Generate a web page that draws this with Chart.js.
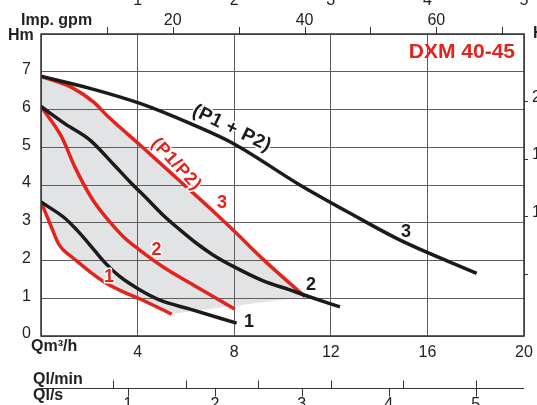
<!DOCTYPE html>
<html>
<head>
<meta charset="utf-8">
<script src="https://cdn.jsdelivr.net/npm/chart.js@4.4.0/dist/chart.umd.min.js"></script>
<style>
  html, body { margin: 0; padding: 0; background: #fff; }
  #wrap { width: 537px; height: 405px; position: relative; }
</style>
</head>
<body>
<div id="wrap"><canvas id="chart"></canvas></div>
<script>
'use strict';

// ---- Pump curves: Q (m3/h) / H (m) ----
const red1Q = [0, 0.37, 0.72, 0.92, 1.34, 2.03, 2.72, 3.41, 4.1, 5.41];
const red1H = [3.55, 2.98, 2.45, 2.28, 2.06, 1.7, 1.39, 1.17, 0.98, 0.58];

const black1Q = [0, 0.99, 1.48, 2.03, 2.58, 3.27, 4.1, 4.93, 6.17, 8.1];
const black1H = [3.55, 3.12, 2.81, 2.41, 1.99, 1.57, 1.22, 0.95, 0.71, 0.34];

const red2Q = [0, 0.85, 1.4, 2.1, 2.72, 3.41, 4.1, 5.06, 6.45, 8.03];
const red2H = [6.08, 5.28, 4.48, 3.65, 3.12, 2.63, 2.27, 1.83, 1.3, 0.71];

const black2Q = [0, 1.0, 2.03, 3.0, 3.69, 4.38, 5.06, 5.76, 6.45, 7.14, 8.0, 9.2, 10.31, 10.93, 12.38];
const black2H = [6.08, 5.62, 5.19, 4.55, 4.08, 3.64, 3.2, 2.81, 2.45, 2.14, 1.83, 1.46, 1.22, 1.08, 0.77];

const red3Q = [0, 1.34, 2.17, 2.72, 4.1, 5.76, 7.14, 8.0, 9.2, 10.93];
const red3H = [6.88, 6.56, 6.2, 5.85, 5.06, 4.1, 3.3, 2.78, 2.03, 1.04];

const black3Q = [0, 2.03, 4.1, 6.17, 7.96, 10.72, 12.8, 14.87, 18.04];
const black3H = [6.88, 6.56, 6.16, 5.63, 5.1, 4.0, 3.25, 2.54, 1.66];

// ---- Axis ticks ----
const qTicks = [4, 8, 12, 16, 20];
const hTicks = [0, 1, 2, 3, 4, 5, 6, 7];
const gpmTicks = [10, 20, 30, 40, 50, 60, 70];
const gpmLabels = [20, 40, 60];
const topCutLabels = ['1', '2', '3', '4', '5'];
const lminTicks = [50, 100, 150, 200, 250, 300];
const lsTicks = [1, 2, 3, 4, 5];
const ftTicks = [5, 10, 15, 20];

const M3H_PER_GPM = 0.2728;
const M3H_PER_LMIN = 0.06;
const M3H_PER_LS = 3.6;
const M_PER_FT = 0.3048;
const FT_SHIFT = 0.12;

const RED = '#e3241d';
const BLACK = '#1b1b1b';
const GREY_AREA = '#e2e3e5';
const GRID = '#5e5e5e';
const TEXT = '#222';
const FONT = '"Liberation Sans", Arial, Helvetica, sans-serif';

// ---- Curve captions (data coords) ----
const curveLabels = [
  { text: '(P1 + P2)', q: 7.9, h: 5.5, angle: 26, color: BLACK, size: 19 },
  { text: '(P1/P2)', q: 5.6, h: 4.55, angle: 47, color: RED, size: 18 },
  { text: '3', q: 7.5, h: 3.53, angle: 0, color: RED, size: 18 },
  { text: '2', q: 4.78, h: 2.28, angle: 0, color: RED, size: 18 },
  { text: '1', q: 2.82, h: 1.55, angle: 0, color: RED, size: 18 },
  { text: '1', q: 8.61, h: 0.37, angle: 0, color: BLACK, size: 18 },
  { text: '2', q: 11.18, h: 1.36, angle: 0, color: BLACK, size: 18 },
  { text: '3', q: 15.11, h: 2.75, angle: 0, color: BLACK, size: 18 },
];

function pts(qs, hs) {
  return qs.map((q, i) => ({ x: q, y: hs[i] }));
}

function curve(qs, hs, color) {
  return {
    data: pts(qs, hs),
    borderColor: color,
    borderWidth: 3.5,
    pointRadius: 0,
    fill: false,
    cubicInterpolationMode: 'monotone',
    borderCapStyle: 'butt',
  };
}

const datasets = [
  curve(black3Q, black3H, BLACK),
  curve(black2Q, black2H, BLACK),
  curve(black1Q, black1H, BLACK),
  curve(red3Q, red3H, RED),   // 3: upper edge of grey area
  curve(red2Q, red2H, RED),
  curve(red1Q, red1H, RED),   // 5: lower edge of grey area
];

// ---- Grey working area between curve 3 max and curve 1 min ----
function segTo(ctx, a, b) {
  if (a.cp2x !== undefined && b.cp1x !== undefined) {
    ctx.bezierCurveTo(a.cp2x, a.cp2y, b.cp1x, b.cp1y, b.x, b.y);
  } else {
    ctx.lineTo(b.x, b.y);
  }
}
function segBack(ctx, b, a) {
  if (a.cp2x !== undefined && b.cp1x !== undefined) {
    ctx.bezierCurveTo(b.cp1x, b.cp1y, a.cp2x, a.cp2y, a.x, a.y);
  } else {
    ctx.lineTo(a.x, a.y);
  }
}

const areaPlugin = {
  id: 'area',
  beforeDraw(chart) {
    const { ctx, chartArea } = chart;
    const upMeta = chart.getDatasetMeta(3);
    const lowMeta = chart.getDatasetMeta(5);
    upMeta.dataset.updateControlPoints(chartArea, 'x');
    lowMeta.dataset.updateControlPoints(chartArea, 'x');
    const up = upMeta.data;
    const low = lowMeta.data;
    ctx.save();
    ctx.fillStyle = GREY_AREA;
    ctx.beginPath();
    ctx.moveTo(up[0].x, up[0].y);
    for (let i = 1; i < up.length; i++) segTo(ctx, up[i - 1], up[i]);
    ctx.lineTo(low[low.length - 1].x, low[low.length - 1].y);
    for (let i = low.length - 1; i > 0; i--) segBack(ctx, low[i], low[i - 1]);
    ctx.closePath();
    ctx.fill();
    ctx.restore();
  }
};

// ---- Frame, secondary axes and captions ----
const decorPlugin = {
  id: 'decor',
  afterDatasetsDraw(chart) {
    const { ctx, chartArea: a, scales: { x, y } } = chart;
    ctx.save();

    // frame
    ctx.strokeStyle = '#333';
    ctx.lineWidth = 1.5;
    ctx.strokeRect(a.left, a.top, a.right - a.left, a.bottom - a.top);

    ctx.fillStyle = TEXT;
    ctx.strokeStyle = '#333';
    ctx.lineWidth = 1;

    // left H ticks
    ctx.font = '16px ' + FONT;
    ctx.textAlign = 'right';
    ctx.textBaseline = 'middle';
    hTicks.forEach(v => ctx.fillText(String(v), 31, y.getPixelForValue(v) - 2));

    // bottom Q ticks
    ctx.textAlign = 'center';
    qTicks.forEach(v => ctx.fillText(String(v), x.getPixelForValue(v), 353));

    // top imp. gpm
    ctx.beginPath();
    gpmTicks.forEach(v => {
      const px = Math.round(x.getPixelForValue(v * M3H_PER_GPM)) + 0.5;
      ctx.moveTo(px, a.top);
      ctx.lineTo(px, a.top - 7);
    });
    ctx.stroke();
    gpmLabels.forEach(v => ctx.fillText(String(v), x.getPixelForValue(v * M3H_PER_GPM), 21));

    // cut-off top scale
    ctx.textBaseline = 'alphabetic';
    qTicks.forEach((v, i) => ctx.fillText(topCutLabels[i], x.getPixelForValue(v), 5));

    // right ft scale (cut off by the page edge)
    ctx.beginPath();
    ftTicks.forEach(v => {
      const py = Math.round(y.getPixelForValue(v * M_PER_FT + FT_SHIFT)) + 0.5;
      ctx.moveTo(a.right, py);
      ctx.lineTo(a.right + 4, py);
    });
    ctx.stroke();
    ctx.textBaseline = 'middle';
    ftTicks.forEach(v => ctx.fillText(String(v), 541, y.getPixelForValue(v * M_PER_FT + FT_SHIFT) - 4));

    // bottom l/min - l/s scale
    const lineY = 388.5;
    ctx.beginPath();
    ctx.moveTo(a.left, lineY);
    ctx.lineTo(a.right, lineY);
    lminTicks.forEach(v => {
      const px = Math.round(x.getPixelForValue(v * M3H_PER_LMIN)) + 0.5;
      ctx.moveTo(px, lineY);
      ctx.lineTo(px, lineY - 8);
    });
    lsTicks.forEach(v => {
      const px = Math.round(x.getPixelForValue(v * M3H_PER_LS)) + 0.5;
      ctx.moveTo(px, lineY);
      ctx.lineTo(px, lineY + 8);
    });
    ctx.stroke();
    ctx.textBaseline = 'top';
    lsTicks.forEach(v => ctx.fillText(String(v), x.getPixelForValue(v * M3H_PER_LS), 397));

    // axis titles
    ctx.font = 'bold 16px ' + FONT;
    ctx.textBaseline = 'middle';
    ctx.textAlign = 'left';
    ctx.fillText('Imp. gpm', 21, 21);
    ctx.fillText('Hm', 8, 36);
    ctx.fillText('Qm³/h', 31, 347);
    ctx.fillText('Ql/min', 33, 380);
    ctx.fillText('Ql/s', 33, 396);
    ctx.fillText('Hft', 533, 34);

    // model name
    ctx.fillStyle = RED;
    ctx.font = 'bold 21px ' + FONT;
    ctx.textAlign = 'right';
    ctx.textBaseline = 'alphabetic';
    ctx.fillText('DXM 40-45', 515, 58);

    // curve captions
    ctx.textAlign = 'center';
    ctx.textBaseline = 'middle';
    ctx.lineJoin = 'round';
    curveLabels.forEach(l => {
      ctx.save();
      ctx.translate(x.getPixelForValue(l.q), y.getPixelForValue(l.h));
      ctx.rotate(l.angle * Math.PI / 180);
      ctx.font = 'bold ' + l.size + 'px ' + FONT;
      ctx.letterSpacing = l.text.length > 1 ? '0.5px' : '0px';
      ctx.strokeStyle = '#fff';
      ctx.lineWidth = 3;
      ctx.strokeText(l.text, 0, 0);
      ctx.fillStyle = l.color;
      ctx.fillText(l.text, 0, 0);
      ctx.restore();
    });

    ctx.restore();
  }
};

new Chart(document.getElementById('chart'), {
  type: 'line',
  data: { datasets },
  plugins: [areaPlugin, decorPlugin],
  options: {
    responsive: true,
    maintainAspectRatio: false,
    animation: false,
    events: [],
    layout: { padding: { left: 41, right: 13, top: 34, bottom: 69 } },
    plugins: {
      legend: { display: false },
      tooltip: { enabled: false },
    },
    scales: {
      x: {
        type: 'linear', min: 0, max: 20,
        ticks: { display: false, stepSize: 4 },
        grid: { color: GRID, lineWidth: 1, drawTicks: false },
        border: { display: false },
      },
      y: {
        type: 'linear', min: 0, max: 8,
        ticks: { display: false, stepSize: 1 },
        grid: { color: GRID, lineWidth: 1, drawTicks: false },
        border: { display: false },
      },
    },
  },
});
</script>
</body>
</html>
